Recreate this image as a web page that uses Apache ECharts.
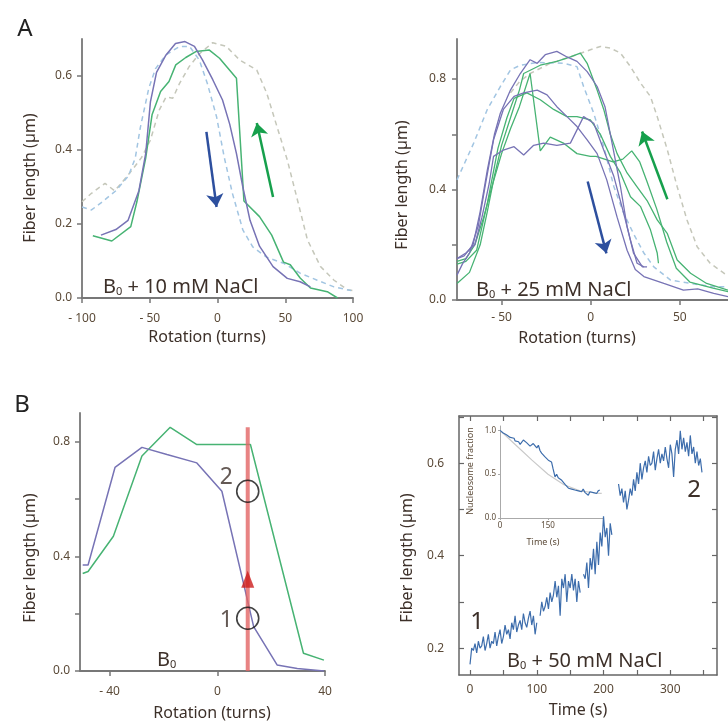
<!DOCTYPE html>
<html><head><meta charset="utf-8">
<script src="https://cdn.jsdelivr.net/npm/echarts@6/dist/echarts.min.js"></script>
<style>html,body{margin:0;padding:0;background:#fff}#c{width:728px;height:722px}</style>
</head><body><div id="c"></div>
<script>
// ---------- Panel A (left): B0 + 10 mM NaCl ----------
const aL_purple = [[-86,0.17],[-75,0.185],[-66,0.21],[-58,0.29],[-53,0.39],[-49.5,0.53],[-45,0.61],[-38,0.657],[-31,0.688],[-24,0.693],[-17,0.68],[-11,0.643],[-3.5,0.59],[3.7,0.535],[9,0.47],[14,0.39],[18.7,0.30],[24,0.21],[31,0.14],[41,0.085],[51.5,0.053],[61,0.044],[68.6,0.03]];
const aL_green = [[-92,0.168],[-78,0.154],[-64,0.193],[-59.5,0.26],[-53,0.378],[-48.3,0.495],[-42,0.558],[-35.8,0.585],[-30.8,0.63],[-23.4,0.65],[-16,0.666],[-6,0.67],[1.5,0.648],[14,0.594],[19.5,0.262],[31,0.22],[40,0.17],[48.7,0.097],[53.7,0.09],[61,0.054],[68.6,0.027],[81,0.017],[88.6,0]];
const aL_blueDash = [[-100,0.246],[-93,0.238],[-86,0.257],[-75,0.29],[-65.7,0.33],[-60.7,0.378],[-57,0.46],[-50.7,0.567],[-45.7,0.62],[-38,0.657],[-28,0.68],[-20.6,0.68],[-13.4,0.643],[-7.5,0.58],[-0.7,0.49],[5,0.38],[11,0.283],[18.7,0.184],[26,0.138],[36.4,0.11],[48.7,0.094],[61,0.067],[73.6,0.048],[86,0.03],[98.7,0.02]];
const aL_grayDash = [[-100,0.26],[-93,0.283],[-83,0.31],[-76,0.29],[-71,0.31],[-63,0.346],[-56,0.38],[-49.5,0.427],[-43,0.508],[-38,0.543],[-33,0.54],[-28,0.58],[-21,0.625],[-13.4,0.66],[-3.5,0.69],[6.5,0.68],[16.4,0.643],[29,0.616],[36.4,0.553],[44,0.462],[51.5,0.373],[59,0.265],[66.4,0.157],[76,0.085],[86,0.048],[96,0.022],[100,0.02]];
const aL_arrowBlue = [[-8.2,0.449],[-0.7,0.246]];
const aL_arrowGreen = [[41,0.273],[29,0.473]];

// ---------- Panel A (right): B0 + 25 mM NaCl ----------
const aR_purple1 = [[-75,0.15],[-71,0.16],[-66,0.2],[-62,0.32],[-58,0.47],[-54,0.6],[-50.7,0.676],[-45,0.76],[-39.5,0.82],[-34,0.87],[-30,0.857],[-25.5,0.888],[-19,0.9],[-13.3,0.88],[-7.7,0.864],[-2,0.827],[3.6,0.773],[8,0.7],[12,0.567],[16.7,0.41],[20.4,0.266],[24,0.17],[29,0.12],[31.6,0.12]];
const aR_purple2 = [[-75,0.09],[-72,0.13],[-68,0.17],[-63,0.27],[-59,0.42],[-54.5,0.58],[-49,0.69],[-43,0.737],[-37.6,0.75],[-30,0.76],[-24.5,0.743],[-19,0.7],[-13.3,0.664],[-7.7,0.628],[-2,0.58],[3.6,0.53],[9,0.435],[14.8,0.3],[20.4,0.18],[25,0.11],[29.8,0.085],[41,0.06],[52,0.036],[60,0.04],[69,0.024],[77,0.012]];
const aR_purple3 = [[-75,0.15],[-70,0.17],[-65,0.2],[-61,0.3],[-57,0.42],[-54.5,0.52],[-49,0.543],[-43,0.555],[-37.6,0.525],[-32,0.56],[-26.4,0.568],[-19,0.56],[-11.4,0.568],[-4,0.664],[1.7,0.64],[7.3,0.543],[13,0.447],[18.5,0.314],[22.3,0.217],[26,0.133],[29.8,0.12]];
const aR_green1 = [[-75,0.06],[-68,0.1],[-62,0.2],[-58,0.32],[-54,0.45],[-50,0.56],[-45,0.66],[-40,0.76],[-37.6,0.82],[-28.3,0.85],[-19,0.864],[-11.4,0.88],[-5.8,0.894],[-2,0.857],[3.6,0.76],[7.3,0.69],[11,0.6],[14.8,0.53],[20.4,0.46],[26,0.41],[31.6,0.36],[37.3,0.29],[43,0.24],[48.5,0.145],[56,0.097],[65,0.06],[77,0.036]];
const aR_green2 = [[-75,0.14],[-70,0.15],[-65,0.2],[-60,0.3],[-55,0.42],[-50,0.53],[-45,0.62],[-40,0.7],[-34,0.82],[-28.3,0.54],[-22.7,0.59],[-15,0.567],[-7.7,0.53],[-0.2,0.52],[3,0.52],[12.5,0.5],[18,0.51],[23,0.54],[27.5,0.5],[31.5,0.43],[37,0.33],[42.6,0.21],[48,0.115],[55.6,0.065],[68.6,0.043],[77,0.03]];
const aR_green3 = [[-75,0.13],[-70,0.14],[-64,0.18],[-58,0.35],[-52,0.55],[-47,0.66],[-43,0.73],[-35.8,0.75],[-28.3,0.725],[-20.8,0.69],[-13.3,0.664],[-7.7,0.664],[-0.2,0.652],[5.4,0.6],[11,0.52],[16.7,0.46],[22.3,0.374],[28,0.338],[33.5,0.254],[37.3,0.17],[38,0.133]];
const aR_blueDash = [[-75,0.435],[-65.7,0.567],[-58,0.69],[-50.7,0.773],[-45,0.833],[-39.5,0.85],[-30,0.86],[-15,0.857],[-7.7,0.845],[-4,0.773],[1.7,0.676],[7.3,0.556],[13,0.41],[18.5,0.314],[24,0.24],[29.8,0.17],[35.4,0.12],[44.8,0.072],[56,0.06],[69,0.048],[77,0.048]];
const aR_grayDash = [[-45,0.75],[-40,0.79],[-34,0.82],[-22.7,0.857],[-11.4,0.88],[-0.2,0.906],[5.4,0.918],[11,0.912],[16.7,0.894],[22.3,0.845],[28,0.785],[33.5,0.737],[37.3,0.664],[43,0.543],[48.5,0.41],[54,0.29],[59.7,0.193],[67,0.133],[74.7,0.097],[77,0.09]];
const aR_arrowBlue = [[-1.7,0.429],[8.8,0.169]];
const aR_arrowGreen = [[43,0.365],[28.8,0.61]];

// ---------- Panel B (left): B0 ----------
const bL_purple = [[-50,0.37],[-48,0.37],[-38,0.71],[-28,0.78],[-18.7,0.755],[-7.6,0.726],[1.7,0.627],[13.5,0.155],[22.2,0.021],[29.7,0.009],[39.6,0]];
const bL_green = [[-50,0.34],[-48,0.347],[-38.6,0.47],[-28,0.75],[-17.5,0.85],[-7.6,0.79],[12.3,0.79],[32,0.062],[39.6,0.038]];
const bL_redLine = [[11.3,0],[11.3,0.85]];
const bL_triangle = [[11.3,0.32]];
const bL_circles = [{name:'1', value:[11.3,0.184]},{name:'2', value:[11.3,0.627]}];

// ---------- Panel B (right): B0 + 50 mM NaCl time trace ----------
const bR_timeStep = 2.5; // seconds between samples
const bR_length = [
  0.165,0.2,0.195,0.21,0.19,0.215,0.2,0.205,0.225,0.195,0.21,0.23,0.2,0.215,0.21,0.235,0.205,0.225,0.24,0.21,
  0.225,0.25,0.23,0.24,0.22,0.255,0.24,0.27,0.235,0.25,0.26,0.24,0.275,0.255,0.245,0.265,0.28,0.25,0.27,0.23,
  0.255,null,0.27,0.3,0.28,0.29,0.31,0.285,0.32,0.3,0.315,0.345,0.31,0.335,0.27,0.35,0.33,0.36,0.3,0.345,
  0.33,0.36,0.325,0.35,0.3,0.345,0.32,null,0.36,0.35,0.385,0.33,0.395,0.37,0.415,0.36,0.43,0.38,0.45,0.42,
  0.485,0.44,0.46,0.4,0.47,0.445,null,null,null,0.555,0.53,0.545,0.515,0.54,0.5,0.52,0.545,0.53,0.565,0.54,
  0.58,0.555,0.6,0.565,0.59,0.605,0.58,0.615,0.595,0.6,0.625,0.585,0.61,0.63,0.6,0.62,0.605,0.635,0.61,0.59,
  0.64,0.62,0.57,0.63,0.65,0.62,0.67,0.63,0.655,0.625,0.645,0.615,0.66,0.62,0.635,0.6,0.625,0.595,0.61,0.58];
// inset: nucleosome fraction vs time
const inset_trace = [[0,1.0],[5,0.99],[10,0.97],[15,0.99],[20,0.95],[26,0.96],[32,0.92],[38,0.9],[44,0.91],[47,0.88],[52,0.86],[58,0.87],[63,0.84],[68,0.85],[73,0.89],[78,0.91],[83,0.86],[88,0.84],[94,0.82],[99,0.81],[104,0.85],[110,0.83],[115,0.8],[120,0.83],[125,0.77],[130,0.74],[135,0.72],[140,0.7],[146,0.68],[151,0.66],[156,0.67],[161,0.64],[166,0.56],[172,0.47],[177,0.5],[182,0.46],[188,0.44],[193,0.43],[198,0.41],[204,0.38],[209,0.36],[214,0.34],[219,0.35],[224,0.33],[229,0.31],[234,0.32],[240,0.34],[245,0.31],[250,0.3],[255,0.3],[260,0.33],[266,0.29],[271,0.27],[276,0.26],[281,0.3],[287,0.28],[292,0.29],[297,0.3],[302,0.28],[307,0.31],[312,0.32]];
const inset_fit = [[0,1.0],[50,0.83],[100,0.66],[150,0.5],[200,0.38],[250,0.31],[300,0.285],[318,0.28]];

const FF = '"Noto Sans", "Open Sans", sans-serif';
const AX = '#777';
const TL = '#5b4a38';
const TXT = '#3d3029';
const PURPLE = '#7773b5', GREEN = '#47b373', BLUED = '#a2c5e2', GRAYD = '#c5c7ba';

function ln(data, color, i, dash, z, w) {
  return {type:'line', data, xAxisIndex:i, yAxisIndex:i, showSymbol:false, symbol:'none', silent:true,
    lineStyle:{color, width:w||1.5, type: dash ? [5,4] : 'solid'}, z: z||3};
}
function arrow(pts, color, i) {
  return {type:'line', data:[], xAxisIndex:i, yAxisIndex:i, silent:true, z:6,
    markLine:{silent:true, symbol:['none','arrow'], symbolSize:13, animation:false,
      label:{show:false}, lineStyle:{color, width:2.5, type:'solid'},
      emphasis:{disabled:true},
      data:[[{coord:pts[0]},{coord:pts[1]}]]}};
}
function xax(gi, min, max, labels, ticks, fmt, margin, extra) {
  return Object.assign({type:'value', gridIndex:gi, min, max, splitLine:{show:false},
    axisLine:{onZero:false, lineStyle:{color:AX, width:1.8}},
    axisTick:{customValues:ticks, length:5, lineStyle:{color:AX, width:1.5}},
    axisLabel:{customValues:labels, formatter:fmt, color:TL, fontSize:12, fontFamily:FF, margin}}, extra||{});
}
function yax(gi, min, max, labels, ticks, margin, extra) {
  return Object.assign({type:'value', gridIndex:gi, min, max, splitLine:{show:false},
    axisLine:{onZero:false, lineStyle:{color:AX, width:1.8}},
    axisTick:{customValues:ticks, length:5, lineStyle:{color:AX, width:1.5}},
    axisLabel:{customValues:labels, formatter:v=>v.toFixed(1), color:TL, fontSize:12, fontFamily:FF, margin}}, extra||{});
}
const dashFmt = v => v < 0 ? '- ' + Math.abs(v) : String(v);

const chart = echarts.init(document.getElementById('c'), null, {renderer:'canvas'});
const bRdata = bR_length.map((v,i)=>[i*bR_timeStep, v]);

const option = {
  animation:false,
  backgroundColor:'#fff',
  grid:[
    {left:82, top:39, width:271, height:259},
    {left:457, top:39, width:271, height:261},
    {left:80, top:413, width:245, height:258},
    {left:459, top:416, width:258, height:259},
    {left:500, top:426, width:103, height:92}
  ],
  xAxis:[
    xax(0,-100,100,[-100,-50,0,50,100],[-100,-50,0,50,100],dashFmt,15),
    xax(1,-75,77,[-50,0,50],[-50,0,50],dashFmt,12),
    xax(2,-51,40,[-40,0,40],[-40,0,40],dashFmt,15),
    xax(3,-16.5,370,[0,100,200,300],[0,50,100,150,200,250,300,350],v=>String(v),9,
      {axisTick:{inside:true, customValues:[0,50,100,150,200,250,300,350], length:5, lineStyle:{color:'#666', width:1.2}},
       axisLine:{onZero:false, lineStyle:{color:'#666', width:1.5}}}),
    {type:'value', gridIndex:3, position:'top', min:-16.5, max:370, splitLine:{show:false},
      axisLine:{onZero:false, lineStyle:{color:'#666', width:1.5}},
      axisTick:{inside:true, customValues:[0,50,100,150,200,250,300,350], length:5, lineStyle:{color:'#666', width:1.2}},
      axisLabel:{show:false}},
    {type:'value', gridIndex:4, min:0, max:322, splitLine:{show:false},
      axisLine:{onZero:false, lineStyle:{color:'#aaa', width:1}},
      axisTick:{customValues:[0,150], length:2, lineStyle:{color:'#aaa'}},
      axisLabel:{customValues:[0,150], color:TL, fontSize:8, fontFamily:FF, margin:4}}
  ],
  yAxis:[
    yax(0,0,0.7,[0,0.2,0.4,0.6],[0,0.2,0.4,0.6],10),
    yax(1,0,0.945,[0,0.4,0.8],[0,0.2,0.4,0.6,0.8],11),
    yax(2,0,0.9,[0,0.4,0.8],[0,0.2,0.4,0.6,0.8],10),
    yax(3,0.142,0.702,[0.2,0.4,0.6],[0.2,0.3,0.4,0.5,0.6,0.7],15,
      {axisTick:{inside:true, customValues:[0.2,0.3,0.4,0.5,0.6,0.7], length:5, lineStyle:{color:'#666', width:1.2}},
       axisLine:{onZero:false, lineStyle:{color:'#666', width:1.5}}}),
    {type:'value', gridIndex:3, position:'right', min:0.142, max:0.702, splitLine:{show:false},
      axisLine:{onZero:false, lineStyle:{color:'#666', width:1.5}},
      axisTick:{inside:true, customValues:[0.2,0.3,0.4,0.5,0.6,0.7], length:5, lineStyle:{color:'#666', width:1.2}},
      axisLabel:{show:false}},
    {type:'value', gridIndex:4, min:0, max:1.05, splitLine:{show:false},
      axisLine:{onZero:false, lineStyle:{color:'#aaa', width:1}},
      axisTick:{customValues:[0,0.5,1.0], length:2, lineStyle:{color:'#aaa'}},
      axisLabel:{customValues:[0,0.5,1.0], formatter:v=>v.toFixed(1), color:TL, fontSize:8, fontFamily:FF, margin:4}}
  ],
  series:[
    // A left
    ln(aL_grayDash, GRAYD, 0, true, 2),
    ln(aL_blueDash, BLUED, 0, true, 2),
    ln(aL_green, GREEN, 0, false, 3),
    ln(aL_purple, PURPLE, 0, false, 4),
    arrow(aL_arrowBlue, '#2d4f9e', 0),
    arrow(aL_arrowGreen, '#16a04c', 0),
    // A right
    ln(aR_grayDash, GRAYD, 1, true, 2),
    ln(aR_blueDash, BLUED, 1, true, 2),
    ln(aR_green1, GREEN, 1, false, 3, 1.3),
    ln(aR_green2, GREEN, 1, false, 3, 1.3),
    ln(aR_green3, GREEN, 1, false, 3, 1.3),
    ln(aR_purple1, PURPLE, 1, false, 4, 1.3),
    ln(aR_purple2, PURPLE, 1, false, 4, 1.3),
    ln(aR_purple3, PURPLE, 1, false, 4, 1.3),
    arrow(aR_arrowBlue, '#2d4f9e', 1),
    arrow(aR_arrowGreen, '#16a04c', 1),
    // B left
    ln(bL_green, GREEN, 2, false, 3),
    ln(bL_purple, PURPLE, 2, false, 4),
    {type:'line', data:bL_redLine, xAxisIndex:2, yAxisIndex:2, showSymbol:false, symbol:'none', silent:true, z:5,
      lineStyle:{color:'rgba(226,100,100,0.8)', width:4}},
    {type:'scatter', data:bL_triangle, xAxisIndex:2, yAxisIndex:2, symbol:'triangle', symbolSize:[13,17], z:7, silent:true,
      itemStyle:{color:'#cc1b1b'}},
    {type:'scatter', data:bL_circles, xAxisIndex:2, yAxisIndex:2, symbol:'circle', symbolSize:22, z:7, silent:true,
      itemStyle:{color:'rgba(0,0,0,0)', borderColor:'#111', borderWidth:1.6},
      label:{show:true, position:'left', distance:3, formatter:p=>p.name, fontSize:23, fontFamily:FF, color:TXT},
      labelLayout:p=>({dy: p.dataIndex===1 ? -14 : 2})},
    // B right
    {type:'line', data:bRdata, xAxisIndex:3, yAxisIndex:3, showSymbol:false, symbol:'none', silent:true, connectNulls:false, z:3,
      lineStyle:{color:'#3d6dac', width:1.2}},
    // inset
    ln(inset_fit, '#c9c9c9', 5, false, 3, 1.2),
    ln(inset_trace, '#3d6dac', 5, false, 4, 1.2)
  ],
  graphic:[
    {type:'text', x:25, y:29, style:{text:'A', fontSize:24, fontFamily:FF, fill:'#222', align:'center', verticalAlign:'middle', textAlign:'center', textVerticalAlign:'middle'}},
    {type:'text', x:22, y:405, style:{text:'B', fontSize:24, fontFamily:FF, fill:'#222', align:'center', verticalAlign:'middle', textAlign:'center', textVerticalAlign:'middle'}},
    {type:'text', x:30, y:178, rotation:Math.PI/2, style:{text:'Fiber length (µm)', fontSize:16, fontFamily:FF, fill:TXT, align:'center', verticalAlign:'middle', textAlign:'center', textVerticalAlign:'middle'}},
    {type:'text', x:207, y:337, style:{text:'Rotation (turns)', fontSize:16, fontFamily:FF, fill:TXT, align:'center', verticalAlign:'middle', textAlign:'center', textVerticalAlign:'middle'}},
    {type:'text', x:402, y:185, rotation:Math.PI/2, style:{text:'Fiber length (µm)', fontSize:16, fontFamily:FF, fill:TXT, align:'center', verticalAlign:'middle', textAlign:'center', textVerticalAlign:'middle'}},
    {type:'text', x:577, y:338, style:{text:'Rotation (turns)', fontSize:16, fontFamily:FF, fill:TXT, align:'center', verticalAlign:'middle', textAlign:'center', textVerticalAlign:'middle'}},
    {type:'text', x:30, y:558, rotation:Math.PI/2, style:{text:'Fiber length (µm)', fontSize:16, fontFamily:FF, fill:TXT, align:'center', verticalAlign:'middle', textAlign:'center', textVerticalAlign:'middle'}},
    {type:'text', x:212, y:713, style:{text:'Rotation (turns)', fontSize:16, fontFamily:FF, fill:TXT, align:'center', verticalAlign:'middle', textAlign:'center', textVerticalAlign:'middle'}},
    {type:'text', x:407, y:558, rotation:Math.PI/2, style:{text:'Fiber length (µm)', fontSize:16, fontFamily:FF, fill:TXT, align:'center', verticalAlign:'middle', textAlign:'center', textVerticalAlign:'middle'}},
    {type:'text', x:578, y:710, style:{text:'Time (s)', fontSize:16, fontFamily:FF, fill:TXT, align:'center', verticalAlign:'middle', textAlign:'center', textVerticalAlign:'middle'}},
    {type:'text', x:470, y:471, rotation:Math.PI/2, style:{text:'Nucleosome fraction', fontSize:9, fontFamily:FF, fill:TL, align:'center', verticalAlign:'middle', textAlign:'center', textVerticalAlign:'middle'}},
    {type:'text', x:543, y:542, style:{text:'Time (s)', fontSize:9, fontFamily:FF, fill:TL, align:'center', verticalAlign:'middle', textAlign:'center', textVerticalAlign:'middle'}},
    {type:'text', x:103, y:287, style:{text:'{a|B}{s|0}{a| + 10 mM NaCl}', rich:{a:{fontSize:20, fontFamily:FF, fill:TXT, color:TXT}, s:{fontSize:11, fontFamily:FF, fill:TXT, color:TXT, verticalAlign:'bottom', padding:[6,0,0,0]}}, verticalAlign:'middle', textVerticalAlign:'middle'}},
    {type:'text', x:476, y:290, style:{text:'{a|B}{s|0}{a| + 25 mM NaCl}', rich:{a:{fontSize:20, fontFamily:FF, fill:TXT, color:TXT}, s:{fontSize:11, fontFamily:FF, fill:TXT, color:TXT, verticalAlign:'bottom', padding:[6,0,0,0]}}, verticalAlign:'middle', textVerticalAlign:'middle'}},
    {type:'text', x:157, y:660, style:{text:'{a|B}{s|0}', rich:{a:{fontSize:20, fontFamily:FF, fill:TXT, color:TXT}, s:{fontSize:11, fontFamily:FF, fill:TXT, color:TXT, verticalAlign:'bottom', padding:[6,0,0,0]}}, verticalAlign:'middle', textVerticalAlign:'middle'}},
    {type:'text', x:507, y:661, style:{text:'{a|B}{s|0}{a| + 50 mM NaCl}', rich:{a:{fontSize:20, fontFamily:FF, fill:TXT, color:TXT}, s:{fontSize:11, fontFamily:FF, fill:TXT, color:TXT, verticalAlign:'bottom', padding:[6,0,0,0]}}, verticalAlign:'middle', textVerticalAlign:'middle'}},
    {type:'text', x:477, y:622, style:{text:'1', fontSize:24, fontFamily:FF, fill:TXT, align:'center', verticalAlign:'middle', textAlign:'center', textVerticalAlign:'middle'}},
    {type:'text', x:694, y:490, style:{text:'2', fontSize:24, fontFamily:FF, fill:TXT, align:'center', verticalAlign:'middle', textAlign:'center', textVerticalAlign:'middle'}}
  ]
};
chart.setOption(option);
</script></body></html>
